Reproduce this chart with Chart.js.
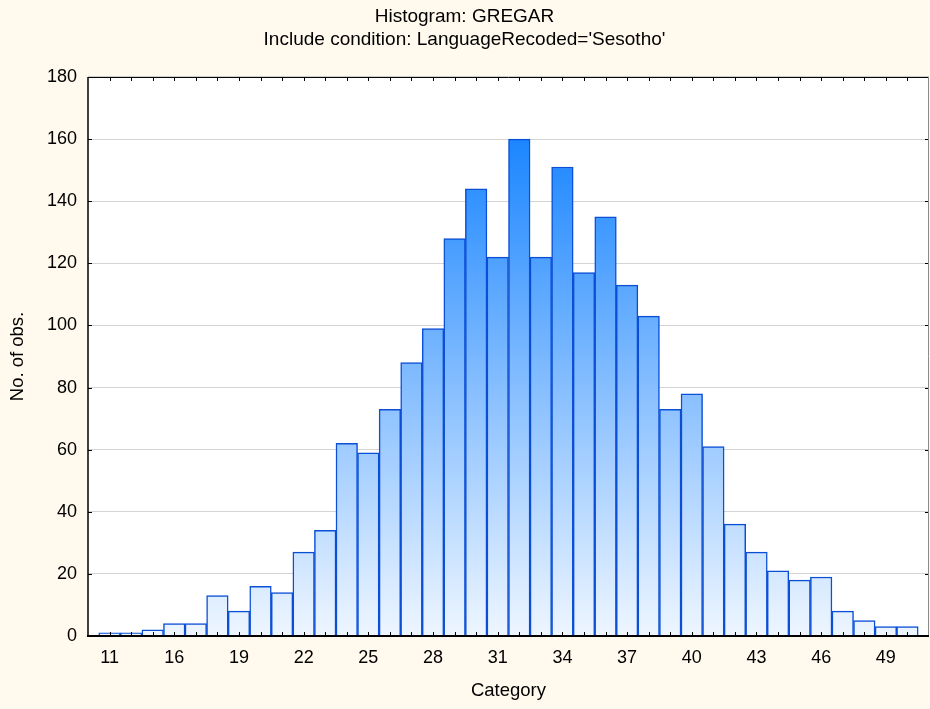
<!DOCTYPE html>
<html>
<head>
<meta charset="utf-8">
<script src="https://cdn.jsdelivr.net/npm/chart.js@4/dist/chart.umd.min.js"></script>
<style>
  html, body { margin: 0; padding: 0; background: #FFF9EE; }
  #wrap { width: 930px; height: 709px; position: relative; }
</style>
</head>
<body>
<div id="wrap"><canvas id="c"></canvas></div>
<script>
// ---- data ----
const titleLines = ["Histogram: GREGAR", "Include condition: LanguageRecoded='Sesotho'"];
const xTitle = "Category";
const yTitle = "No. of obs.";
const categories = [11, 13, 15, 16, 17, 18, 19, 20, 21, 22, 23, 24, 25, 26, 27, 28, 29, 30, 31,
                    32, 33, 34, 35, 36, 37, 38, 39, 40, 41, 42, 43, 44, 45, 46, 47, 48, 49, 50];
const counts = [1, 1, 2, 4, 4, 13, 8, 16, 14, 27, 34, 62, 59, 73, 88, 99, 128, 144, 122,
                160, 122, 151, 117, 135, 113, 103, 73, 78, 61, 36, 27, 21, 18, 19, 8, 5, 3, 3];
const labelEvery = 3;
const yMin = 0, yMax = 180, yStep = 20;

const FONT = "'Liberation Sans', Arial, sans-serif";
const points = counts.map((v, i) => ({ x: i + 1, y: v }));

let gradCache = null;
function barGradient(context) {
  const chart = context.chart;
  const area = chart.chartArea;
  if (!area) return '#8FC3FF';
  const ys = chart.scales.y;
  const y0 = ys.getPixelForValue(0);
  const y1 = ys.getPixelForValue(160);
  const key = y0 + '_' + y1;
  if (gradCache && gradCache.key === key) return gradCache.g;
  const g = chart.ctx.createLinearGradient(0, y0, 0, y1);
  g.addColorStop(0, '#EEF6FF');
  g.addColorStop(0.5, '#86BEFF');
  g.addColorStop(1, '#1B86FF');
  gradCache = { key, g };
  return g;
}

const framePlugin = {
  id: 'frame',
  beforeDraw(chart) {
    const { ctx, chartArea: a } = chart;
    ctx.save();
    ctx.fillStyle = '#FFF9EE';
    ctx.fillRect(0, 0, chart.width, chart.height);
    ctx.fillStyle = '#FFFFFF';
    ctx.fillRect(a.left, a.top, a.right - a.left, a.bottom - a.top);
    ctx.restore();
  },
  afterDatasetsDraw(chart) {
    const { ctx, chartArea: a, scales } = chart;
    const xs = scales.x, ys = scales.y;
    ctx.save();
    ctx.strokeStyle = '#000000';
    ctx.lineWidth = 1;
    ctx.beginPath();
    for (let i = 1; i <= counts.length; i++) {
      const px = Math.round(xs.getPixelForValue(i)) + 0.5;
      ctx.moveTo(px, a.bottom); ctx.lineTo(px, a.bottom - 4);
      ctx.moveTo(px, a.top); ctx.lineTo(px, a.top + 4);
    }
    ys.ticks.forEach(t => {
      const py = Math.round(ys.getPixelForValue(t.value)) + 0.5;
      ctx.moveTo(a.left, py); ctx.lineTo(a.left + 4, py);
      ctx.moveTo(a.right, py); ctx.lineTo(a.right - 4, py);
    });
    ctx.stroke();
    // frame
    ctx.beginPath();
    ctx.lineWidth = 1;
    ctx.moveTo(a.left, a.top + 0.5); ctx.lineTo(a.right, a.top + 0.5);
    ctx.stroke();
    ctx.beginPath();
    ctx.strokeStyle = '#8A8A8A';
    ctx.moveTo(a.right - 0.5, a.top); ctx.lineTo(a.right - 0.5, a.bottom);
    ctx.stroke();
    ctx.beginPath();
    ctx.strokeStyle = '#000000';
    ctx.lineWidth = 1.5;
    ctx.moveTo(a.left, a.top); ctx.lineTo(a.left, a.bottom);
    ctx.stroke();
    ctx.beginPath();
    ctx.lineWidth = 2;
    ctx.moveTo(a.left - 1, a.bottom); ctx.lineTo(a.right, a.bottom);
    ctx.stroke();
    ctx.restore();
  }
};

new Chart(document.getElementById('c'), {
  type: 'bar',
  data: {
    datasets: [{
      data: points,
      backgroundColor: barGradient,
      borderColor: '#0B4FD6',
      borderWidth: 1.5,
      barPercentage: 1,
      categoryPercentage: 1
    }]
  },
  options: {
    responsive: true,
    maintainAspectRatio: false,
    animation: false,
    layout: { padding: { left: 0, right: 1, top: 0, bottom: 0 } },
    plugins: {
      legend: { display: false },
      tooltip: { enabled: false },
      title: {
        display: true,
        text: titleLines,
        color: '#000',
        font: { family: FONT, size: 19, weight: 'normal', lineHeight: 1.21 },
        padding: { top: 5, bottom: 26 }
      }
    },
    scales: {
      x: {
        type: 'linear',
        min: 0,
        max: categories.length + 1,
        offset: false,
        grid: { display: false, drawTicks: false },
        border: { display: false },
        afterFit(scale) { scale.height = 73; },
        afterBuildTicks(scale) {
          scale.ticks = categories.map((c, i) => ({ value: i + 1 }));
        },
        ticks: {
          autoSkip: false,
          maxRotation: 0,
          padding: 11,
          color: '#000',
          font: { family: FONT, size: 18 },
          callback(v) {
            const i = Math.round(v) - 1;
            if (i < 0 || i >= categories.length) return '';
            return (i % labelEvery === 0) ? String(categories[i]) : '';
          }
        },
        title: {
          display: true,
          text: xTitle,
          color: '#000',
          font: { family: FONT, size: 18.5 },
          padding: { top: 0, bottom: 7 }
        }
      },
      y: {
        min: yMin,
        max: yMax,
        grid: { color: '#D4D4D4', lineWidth: 1, drawTicks: false },
        border: { display: false },
        afterFit(scale) { scale.width = 88; },
        ticks: {
          stepSize: yStep,
          padding: 11,
          color: '#000',
          font: { family: FONT, size: 18 }
        },
        title: {
          display: true,
          text: yTitle,
          color: '#000',
          font: { family: FONT, size: 18.5 },
          padding: { top: 7, bottom: 0 }
        }
      }
    }
  },
  plugins: [framePlugin]
});
</script>
</body>
</html>
